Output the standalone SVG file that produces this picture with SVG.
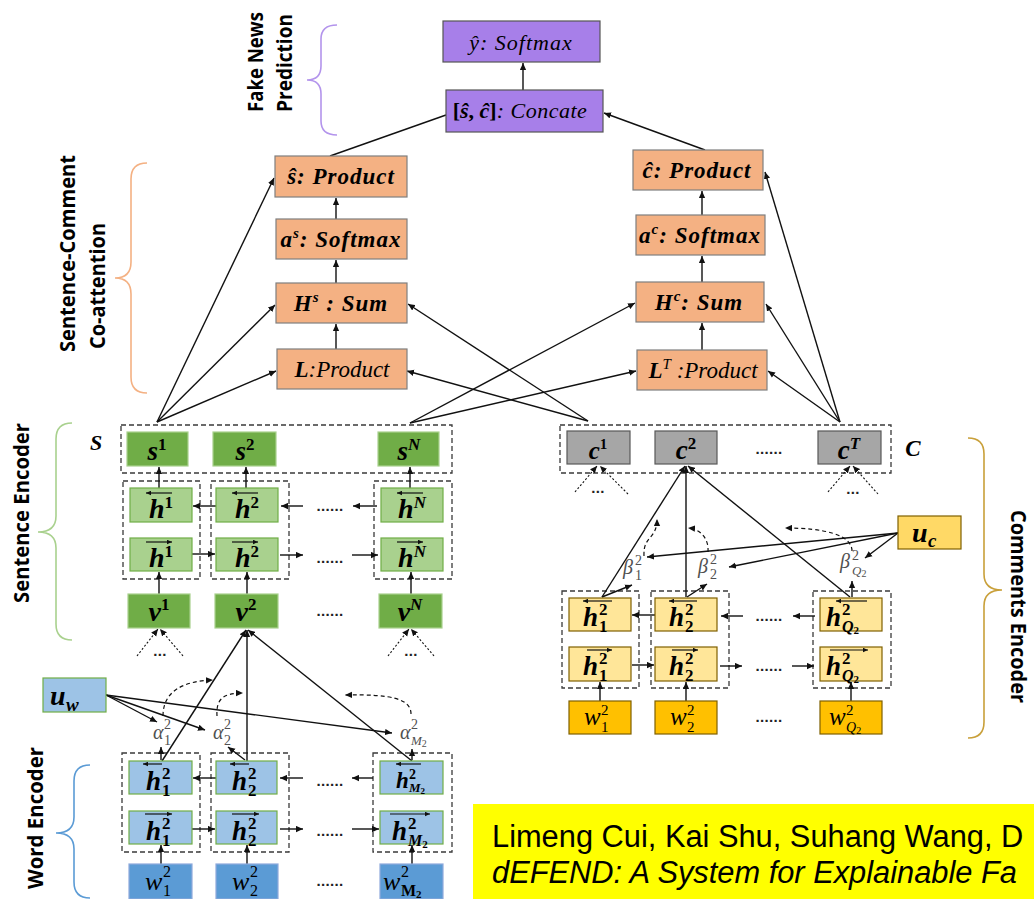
<svg xmlns="http://www.w3.org/2000/svg" width="1034" height="899" viewBox="0 0 1034 899">
<defs>
<style>
.ln{fill:none;stroke:#111;stroke-width:1.4}
.ar{marker-end:url(#ah)}
.dt{stroke-dasharray:2 2;stroke-width:1.1}
.ds{stroke-dasharray:4 3;stroke-width:1.2}
.ctr{fill:none;stroke:#3a3a3a;stroke-width:1.3;stroke-dasharray:5 3}
.vec{fill:none;stroke:#111;stroke-width:1.2;marker-end:url(#av)}
.pu{fill:#a77fe9;stroke:#555;stroke-width:1.2}
.og{fill:#f4b183;stroke:#7f7f7f;stroke-width:1.2}
.dg{fill:#70ad47;stroke:#a9d18e;stroke-width:1.2}
.lg{fill:#a9d18e;stroke:#70ad47;stroke-width:1.2}
.gy{fill:#a6a6a6;stroke:#595959;stroke-width:1.2}
.ly{fill:#ffe699;stroke:#7f6000;stroke-width:1.2}
.uy{fill:#ffd966;stroke:#7f6000;stroke-width:1.2}
.dy{fill:#ffc000;stroke:#7f6000;stroke-width:1.2}
.lb{fill:#9dc3e6;stroke:#70ad47;stroke-width:1.2}
.db{fill:#5b9bd5;stroke:#8faadc;stroke-width:1.2}
.t{font-family:'Liberation Serif','DejaVu Serif',serif;fill:#000}
.bi{font-weight:bold;font-style:italic}
.it{font-style:italic}
.up{font-style:normal}
.g{fill:#505050}
.sec{font-family:'Open Sans','DejaVu Sans',sans-serif;font-weight:700;font-size:21px;fill:#000}
.dots{font-family:'Liberation Sans',sans-serif;font-size:15px;font-weight:bold;fill:#222;letter-spacing:0.3px}
.br{fill:none;stroke-width:1.6}
.cit{font-family:'Liberation Sans',Arial,sans-serif;font-size:30.8px;fill:#000}
</style>
<marker id="ah" viewBox="0 0 10 10" refX="10" refY="5" markerWidth="7" markerHeight="7" markerUnits="userSpaceOnUse" orient="auto"><path d="M0,0.5 L10,5 L0,9.5 z" fill="#111"/></marker>
<marker id="av" viewBox="0 0 10 10" refX="10" refY="5" markerWidth="5" markerHeight="5" markerUnits="userSpaceOnUse" orient="auto"><path d="M0,0.5 L10,5 L0,9.5 z" fill="#111"/></marker>
</defs>
<rect x="0" y="0" width="1034" height="899" fill="#fff"/>

<g id="braces">
<path class="br" stroke="#b394ec" d="M337,25 Q321,25 321,39 L321,66 Q321,80 307,80 Q321,80 321,94 L321,121 Q321,135 337,135"/>
<path class="br" stroke="#f4b183" d="M147,163 Q131,163 131,179 L131,262 Q131,278 115,278 Q131,278 131,294 L131,377 Q131,393 147,393"/>
<path class="br" stroke="#a9d18e" d="M72,423 Q56,423 56,439 L56,516 Q56,532 38,532 Q56,532 56,548 L56,624 Q56,640 72,640"/>
<path class="br" stroke="#5b9bd5" d="M90,765 Q74,765 74,781 L74,817 Q74,833 56,833 Q74,833 74,849 L74,882 Q74,898 90,898"/>
<path class="br" stroke="#c9a03a" d="M968,438 Q984,438 984,454 L984,574 Q984,590 1002,590 Q984,590 984,606 L984,722 Q984,738 968,738"/>
</g>

<g id="section-labels">
<text class="sec" font-size="20" transform="translate(263,112) rotate(-90)" textLength="100" lengthAdjust="spacingAndGlyphs">Fake News</text>
<text class="sec" font-size="20" transform="translate(292,112) rotate(-90)" textLength="98" lengthAdjust="spacingAndGlyphs">Prediction</text>
<text class="sec" transform="translate(75,352) rotate(-90)" textLength="197" lengthAdjust="spacingAndGlyphs">Sentence-Comment</text>
<text class="sec" transform="translate(105,349) rotate(-90)" textLength="126" lengthAdjust="spacingAndGlyphs">Co-attention</text>
<text class="sec" transform="translate(29,603) rotate(-90)" textLength="180" lengthAdjust="spacingAndGlyphs">Sentence Encoder</text>
<text class="sec" transform="translate(43,889) rotate(-90)" textLength="142" lengthAdjust="spacingAndGlyphs">Word Encoder</text>
<text class="sec" transform="translate(1011,510) rotate(90)" textLength="193" lengthAdjust="spacingAndGlyphs">Comments Encoder</text>
</g>

<g id="containers">
<rect id="S" class="ctr" x="121" y="425" width="331" height="48"/>
<rect class="ctr" x="123" y="481" width="77" height="98"/>
<rect class="ctr" x="211" y="481" width="78" height="98"/>
<rect class="ctr" x="374" y="481" width="78" height="98"/>
<rect id="C" class="ctr" x="560" y="425" width="331" height="48"/>
<rect class="ctr" x="562" y="591" width="77" height="97"/>
<rect class="ctr" x="651" y="591" width="78" height="97"/>
<rect class="ctr" x="813" y="591" width="78" height="97"/>
<rect class="ctr" x="122" y="753" width="78" height="99"/>
<rect class="ctr" x="211" y="753" width="78" height="99"/>
<rect class="ctr" x="373" y="753" width="79" height="99"/>
<text class="t bi" x="96" y="450" text-anchor="middle" font-size="22">S</text>
<text class="t bi" x="913" y="456" text-anchor="middle" font-size="23">C</text>
</g>

<g id="connectors">
<path class="ln ar" d="M523,90 L523,63"/>
<path class="ln" d="M330,156 L446,115"/>
<path class="ln ar" d="M705,150 L604,113"/>
<path class="ln ar" d="M336,349 L336,324"/>
<path class="ln ar" d="M336,283 L336,260"/>
<path class="ln ar" d="M336,219 L336,198"/>
<path class="ln ar" d="M702,350 L702,323"/>
<path class="ln ar" d="M702,282 L702,256"/>
<path class="ln ar" d="M702,215 L702,191"/>
<path class="ln ar" d="M157,422 L274,178"/>
<path class="ln ar" d="M157,422 L275,305"/>
<path class="ln ar" d="M157,422 L276,371"/>
<path class="ln ar" d="M410,423 L635,303"/>
<path class="ln ar" d="M410,423 L636,371"/>
<path class="ln ar" d="M588,421 L408,304"/>
<path class="ln ar" d="M588,421 L407,371"/>
<path class="ln ar" d="M840,422 L765,172"/>
<path class="ln ar" d="M840,422 L766,304"/>
<path class="ln ar" d="M840,422 L768,371"/>
<path class="ln ar" d="M159,594 L159,572"/>
<path class="ln ar" d="M247,594 L247,572"/>
<path class="ln ar" d="M411,594 L411,572"/>
<path class="ln ar" d="M159,488 L159,467"/>
<path class="ln ar" d="M246,488 L246,467"/>
<path class="ln ar" d="M410,488 L410,467"/>
<path class="ln ar" d="M192,554 L215,554"/>
<path class="ln ar" d="M280,555 L303,555"/>
<path class="ln ar" d="M352,555 L378,555"/>
<path class="ln ar" d="M216,506 L193,506"/>
<path class="ln ar" d="M303,506 L281,506"/>
<path class="ln ar" d="M377,506 L353,506"/>
<path class="ln dt ar" d="M137,656 L158,629"/>
<path class="ln dt ar" d="M183,656 L160,629"/>
<path class="ln dt ar" d="M388,656 L409,629"/>
<path class="ln dt ar" d="M434,656 L411,629"/>
<path class="ln ar" d="M162,761 L246,630"/>
<path class="ln ar" d="M247,761 L247,630"/>
<path class="ln ar" d="M412,761 L248,630"/>
<path class="ln ar" d="M106,695 L157,722"/>
<path class="ln ar" d="M106,695 L205,730"/>
<path class="ln ar" d="M106,695 L392,733"/>
<path class="ln ar" d="M161,760 L161,747"/>
<path class="ln ar" d="M245,760 L228,747"/>
<path class="ln ar" d="M412,760 L412,749"/>
<path class="ln ds ar" d="M163,716 C163,690 185,681 213,680"/>
<path class="ln ds ar" d="M217,716 C216,700 222,693 243,693"/>
<path class="ln ds ar" d="M411,714 C411,699 392,694 345,695"/>
<path class="ln ar" d="M161,864 L161,845"/>
<path class="ln ar" d="M247,864 L247,845"/>
<path class="ln ar" d="M412,864 L412,845"/>
<path class="ln ar" d="M192,829 L215,829"/>
<path class="ln ar" d="M280,829 L303,829"/>
<path class="ln ar" d="M352,829 L379,829"/>
<path class="ln ar" d="M216,778 L193,778"/>
<path class="ln ar" d="M303,778 L280,778"/>
<path class="ln ar" d="M373,778 L352,778"/>
<path class="ln dt ar" d="M575,492 L597,466"/>
<path class="ln dt ar" d="M628,494 L600,466"/>
<path class="ln dt ar" d="M828,492 L850,466"/>
<path class="ln dt ar" d="M878,494 L853,466"/>
<path class="ln ar" d="M602,597 L685,466"/>
<path class="ln ar" d="M686,597 L686,466"/>
<path class="ln ar" d="M850,597 L688,466"/>
<path class="ln ar" d="M602,597 L632,585"/>
<path class="ln ar" d="M687,597 L707,584"/>
<path class="ln ar" d="M852,597 L852,581"/>
<path class="ln ar" d="M898,533 L647,557"/>
<path class="ln ar" d="M898,533 L729,567"/>
<path class="ln ar" d="M898,533 L865,558"/>
<path class="ln ds ar" d="M644,556 C643,535 657,540 657,519"/>
<path class="ln ds ar" d="M708,552 C709,538 700,529 688,528"/>
<path class="ln ds ar" d="M852,551 C852,535 825,528 785,528"/>
<path class="ln ar" d="M600,701 L600,682"/>
<path class="ln ar" d="M686,701 L686,682"/>
<path class="ln ar" d="M851,701 L851,682"/>
<path class="ln ar" d="M632,665 L654,665"/>
<path class="ln ar" d="M720,666 L742,666"/>
<path class="ln ar" d="M792,666 L814,666"/>
<path class="ln ar" d="M655,615 L632,615"/>
<path class="ln ar" d="M743,616 L721,616"/>
<path class="ln ar" d="M815,616 L793,616"/>
</g>

<g id="dots">
<text class="dots" x="330" y="511" text-anchor="middle">......</text>
<text class="dots" x="330" y="563" text-anchor="middle">......</text>
<text class="dots" x="330" y="616" text-anchor="middle">......</text>
<text class="dots" x="160" y="656" text-anchor="middle">...</text>
<text class="dots" x="411" y="656" text-anchor="middle">...</text>
<text class="dots" x="330" y="786" text-anchor="middle">......</text>
<text class="dots" x="330" y="836" text-anchor="middle">......</text>
<text class="dots" x="330" y="886" text-anchor="middle">......</text>
<text class="dots" x="769" y="454" text-anchor="middle">......</text>
<text class="dots" x="598" y="493" text-anchor="middle">...</text>
<text class="dots" x="853" y="494" text-anchor="middle">...</text>
<text class="dots" x="769" y="621" text-anchor="middle">......</text>
<text class="dots" x="769" y="671" text-anchor="middle">......</text>
<text class="dots" x="769" y="722" text-anchor="middle">......</text>
</g>

<g id="n-yhat"><rect class="pu" x="443" y="21" width="157" height="41"/><text class="t it" x="521" y="50" text-anchor="middle" font-size="22" letter-spacing="1">ŷ: Softmax</text></g>
<g id="n-concate"><rect class="pu" x="446" y="90" width="157" height="42"/><text class="t" x="520" y="118" text-anchor="middle" font-size="22"><tspan font-weight="bold">[</tspan><tspan class="bi">ŝ</tspan><tspan font-weight="bold">, </tspan><tspan class="bi">ĉ</tspan><tspan font-weight="bold">]</tspan><tspan class="it" letter-spacing="0.5">: Concate</tspan></text></g>

<g id="n-shat"><rect class="og" x="275" y="156" width="132" height="41"/><text class="t bi" x="341" y="184" text-anchor="middle" font-size="23" letter-spacing="1">ŝ: Product</text></g>
<g id="n-as"><rect class="og" x="276" y="219" width="131" height="40"/><text class="t bi" x="341" y="247" text-anchor="middle" font-size="23" letter-spacing="1">a<tspan font-size="15" dy="-9">s</tspan><tspan dy="9">: Softmax</tspan></text></g>
<g id="n-Hs"><rect class="og" x="276" y="283" width="131" height="40"/><text class="t bi" x="341" y="311" text-anchor="middle" font-size="23" letter-spacing="1">H<tspan font-size="15" dy="-9">s</tspan><tspan dy="9"> : Sum</tspan></text></g>
<g id="n-L"><rect class="og" x="277" y="349" width="130" height="40"/><text class="t it" x="342" y="377" text-anchor="middle" font-size="23"><tspan font-weight="bold">L</tspan>:Product</text></g>
<g id="n-chat"><rect class="og" x="633" y="150" width="130" height="40"/><text class="t bi" x="697" y="178" text-anchor="middle" font-size="23" letter-spacing="1">ĉ: Product</text></g>
<g id="n-ac"><rect class="og" x="636" y="215" width="129" height="40"/><text class="t bi" x="700" y="243" text-anchor="middle" font-size="23" letter-spacing="1">a<tspan font-size="15" dy="-9">c</tspan><tspan dy="9">: Softmax</tspan></text></g>
<g id="n-Hc"><rect class="og" x="636" y="282" width="128" height="40"/><text class="t bi" x="699" y="310" text-anchor="middle" font-size="23" letter-spacing="1">H<tspan font-size="15" dy="-9">c</tspan><tspan dy="9">: Sum</tspan></text></g>
<g id="n-LT"><rect class="og" x="637" y="350" width="130" height="40"/><text class="t it" x="703" y="378" text-anchor="middle" font-size="23"><tspan font-weight="bold">L</tspan><tspan font-size="15" dy="-9">T</tspan><tspan dy="9"> :Product</tspan></text></g>

<g id="n-s1"><rect class="dg" x="127" y="432" width="61" height="34"/><text class="t bi" x="157" y="460" text-anchor="middle" font-size="27">s<tspan class="up" font-size="17" dy="-10">1</tspan></text></g>
<g id="n-s2"><rect class="dg" x="213" y="432" width="63" height="34"/><text class="t bi" x="245" y="460" text-anchor="middle" font-size="27">s<tspan class="up" font-size="17" dy="-10">2</tspan></text></g>
<g id="n-sN"><rect class="dg" x="378" y="432" width="61" height="34"/><text class="t bi" x="409" y="460" text-anchor="middle" font-size="27">s<tspan font-size="17" dy="-10">N</tspan></text></g>
<g id="n-hb1"><rect class="lg" x="130" y="488" width="62" height="34"/><path class="vec" d="M172,493 L146,493"/><text class="t bi" x="161" y="518" text-anchor="middle" font-size="28">h<tspan class="up" font-size="17" dy="-10">1</tspan></text></g>
<g id="n-hb2"><rect class="lg" x="216" y="488" width="62" height="34"/><path class="vec" d="M258,493 L232,493"/><text class="t bi" x="247" y="518" text-anchor="middle" font-size="28">h<tspan class="up" font-size="17" dy="-10">2</tspan></text></g>
<g id="n-hbN"><rect class="lg" x="381" y="488" width="62" height="34"/><path class="vec" d="M423,493 L397,493"/><text class="t bi" x="412" y="518" text-anchor="middle" font-size="28">h<tspan font-size="17" dy="-10">N</tspan></text></g>
<g id="n-hf1"><rect class="lg" x="130" y="538" width="62" height="33"/><path class="vec" d="M146,542 L172,542"/><text class="t bi" x="161" y="567" text-anchor="middle" font-size="28">h<tspan class="up" font-size="17" dy="-10">1</tspan></text></g>
<g id="n-hf2"><rect class="lg" x="216" y="538" width="62" height="33"/><path class="vec" d="M232,542 L258,542"/><text class="t bi" x="247" y="567" text-anchor="middle" font-size="28">h<tspan class="up" font-size="17" dy="-10">2</tspan></text></g>
<g id="n-hfN"><rect class="lg" x="381" y="538" width="62" height="33"/><path class="vec" d="M397,542 L423,542"/><text class="t bi" x="412" y="567" text-anchor="middle" font-size="28">h<tspan font-size="17" dy="-10">N</tspan></text></g>
<g id="n-v1"><rect class="dg" x="128" y="594" width="62" height="34"/><text class="t bi" x="159" y="621" text-anchor="middle" font-size="28">v<tspan class="up" font-size="17" dy="-11">1</tspan></text></g>
<g id="n-v2"><rect class="dg" x="215" y="594" width="63" height="34"/><text class="t bi" x="246" y="621" text-anchor="middle" font-size="28">v<tspan class="up" font-size="17" dy="-11">2</tspan></text></g>
<g id="n-vN"><rect class="dg" x="379" y="594" width="63" height="34"/><text class="t bi" x="410" y="621" text-anchor="middle" font-size="28">v<tspan font-size="17" dy="-11">N</tspan></text></g>

<g id="n-uw"><rect class="lb" x="43" y="678" width="63" height="34"/><text class="t bi" font-size="28"><tspan x="50" y="705">u</tspan><tspan font-size="19" x="66" y="711">w</tspan></text></g>
<g id="n-alpha1"><text class="t it g" font-size="20"><tspan x="153" y="739">α</tspan><tspan class="up" font-size="14" x="164" y="729">2</tspan><tspan class="up" font-size="14" x="164" y="745">1</tspan></text></g>
<g id="n-alpha2"><text class="t it g" font-size="20"><tspan x="213" y="739">α</tspan><tspan class="up" font-size="14" x="224" y="729">2</tspan><tspan class="up" font-size="14" x="224" y="745">2</tspan></text></g>
<g id="n-alphaM"><text class="t it g" font-size="20"><tspan x="400" y="739">α</tspan><tspan class="up" font-size="14" x="411" y="729">2</tspan><tspan font-size="13" x="411" y="745">M</tspan><tspan class="up" font-size="10" dy="2">2</tspan></text></g>
<g id="n-whb1"><rect class="lb" x="129" y="761" width="63" height="33"/><path class="vec" d="M162,764 L143,764"/><text class="t bi" font-size="27"><tspan x="146" y="790">h</tspan><tspan class="up" font-size="17" x="162" y="779">2</tspan><tspan class="up" font-size="17" x="162" y="796">1</tspan></text></g>
<g id="n-whb2"><rect class="lb" x="216" y="761" width="61" height="33"/><path class="vec" d="M249,764 L230,764"/><text class="t bi" font-size="27"><tspan x="232" y="790">h</tspan><tspan class="up" font-size="17" x="248" y="779">2</tspan><tspan class="up" font-size="17" x="248" y="796">2</tspan></text></g>
<g id="n-whbM"><rect class="lb" x="380" y="761" width="63" height="33"/><path class="vec" d="M421,764 L396,764"/><text class="t bi" font-size="23"><tspan x="396" y="788">h</tspan><tspan class="up" font-size="14" x="409" y="779">2</tspan><tspan font-size="13" x="409" y="792">M</tspan><tspan class="up" font-size="9" dy="2">2</tspan></text></g>
<g id="n-whf1"><rect class="lb" x="129" y="811" width="63" height="33"/><path class="vec" d="M145,814 L172,814"/><text class="t bi" font-size="27"><tspan x="146" y="840">h</tspan><tspan class="up" font-size="17" x="162" y="829">2</tspan><tspan class="up" font-size="17" x="162" y="846">1</tspan></text></g>
<g id="n-whf2"><rect class="lb" x="216" y="811" width="61" height="33"/><path class="vec" d="M232,814 L259,814"/><text class="t bi" font-size="27"><tspan x="232" y="840">h</tspan><tspan class="up" font-size="17" x="248" y="829">2</tspan><tspan class="up" font-size="17" x="248" y="846">2</tspan></text></g>
<g id="n-whfM"><rect class="lb" x="380" y="811" width="63" height="33"/><path class="vec" d="M390,814 L430,814"/><text class="t bi" font-size="27"><tspan x="392" y="840">h</tspan><tspan class="up" font-size="17" x="408" y="829">2</tspan><tspan font-size="16" x="408" y="846">M</tspan><tspan class="up" font-size="11" dy="2">2</tspan></text></g>
<g id="n-ww1"><rect class="db" x="129" y="864" width="63" height="35"/><text class="t it" font-size="26"><tspan x="145" y="890">w</tspan><tspan class="up" font-size="16" x="163" y="877">2</tspan><tspan class="up" font-size="16" x="163" y="896">1</tspan></text></g>
<g id="n-ww2"><rect class="db" x="216" y="864" width="62" height="35"/><text class="t it" font-size="26"><tspan x="232" y="890">w</tspan><tspan class="up" font-size="16" x="250" y="877">2</tspan><tspan class="up" font-size="16" x="250" y="896">2</tspan></text></g>
<g id="n-wwM"><rect class="db" x="380" y="864" width="63" height="35"/><text class="t it" font-size="26"><tspan x="383" y="890">w</tspan><tspan class="up" font-size="16" x="401" y="877">2</tspan><tspan class="up" font-size="16" font-weight="bold" x="401" y="896">M</tspan><tspan class="up" font-size="11" font-weight="bold" dy="2">2</tspan></text></g>

<g id="n-c1"><rect class="gy" x="567" y="431" width="63" height="33"/><text class="t bi" x="598" y="459" text-anchor="middle" font-size="25">c<tspan class="up" font-size="15" dy="-10">1</tspan></text></g>
<g id="n-c2"><rect class="gy" x="655" y="431" width="62" height="33"/><text class="t bi" x="686" y="459" text-anchor="middle" font-size="27">c<tspan class="up" font-size="17" dy="-10">2</tspan></text></g>
<g id="n-cT"><rect class="gy" x="818" y="431" width="63" height="33"/><text class="t bi" x="849" y="459" text-anchor="middle" font-size="27">c<tspan font-size="17" dy="-10">T</tspan></text></g>
<g id="n-uc"><rect class="uy" x="898" y="516" width="63" height="33"/><text class="t bi" font-size="28"><tspan x="912" y="542">u</tspan><tspan font-size="19" x="928" y="547">c</tspan></text></g>
<g id="n-beta1"><text class="t it g" font-size="20"><tspan x="623" y="574">β</tspan><tspan class="up" font-size="14" x="635" y="565">2</tspan><tspan class="up" font-size="14" x="635" y="580">1</tspan></text></g>
<g id="n-beta2"><text class="t it g" font-size="20"><tspan x="698" y="573">β</tspan><tspan class="up" font-size="14" x="710" y="564">2</tspan><tspan class="up" font-size="14" x="710" y="579">2</tspan></text></g>
<g id="n-betaQ"><text class="t it g" font-size="20"><tspan x="840" y="568">β</tspan><tspan class="up" font-size="14" x="852" y="560">2</tspan><tspan font-size="13" x="852" y="575">Q</tspan><tspan class="up" font-size="10" dy="2">2</tspan></text></g>
<g id="n-chb1"><rect class="ly" x="569" y="598" width="62" height="33"/><path class="vec" d="M612,601 L583,601"/><text class="t bi" font-size="27"><tspan x="583" y="626">h</tspan><tspan class="up" font-size="17" x="599" y="615">2</tspan><tspan class="up" font-size="17" x="599" y="632">1</tspan></text></g>
<g id="n-chb2"><rect class="ly" x="655" y="598" width="62" height="33"/><path class="vec" d="M697,601 L669,601"/><text class="t bi" font-size="27"><tspan x="669" y="626">h</tspan><tspan class="up" font-size="17" x="685" y="615">2</tspan><tspan class="up" font-size="17" x="685" y="632">2</tspan></text></g>
<g id="n-chbQ"><rect class="ly" x="820" y="598" width="62" height="33"/><path class="vec" d="M867,601 L836,601"/><text class="t bi" font-size="27"><tspan x="826" y="626">h</tspan><tspan class="up" font-size="17" x="842" y="615">2</tspan><tspan font-size="16" x="842" y="632">Q</tspan><tspan class="up" font-size="11" dy="2">2</tspan></text></g>
<g id="n-chf1"><rect class="ly" x="569" y="647" width="62" height="34"/><path class="vec" d="M587,650 L612,650"/><text class="t bi" font-size="27"><tspan x="583" y="675">h</tspan><tspan class="up" font-size="17" x="599" y="664">2</tspan><tspan class="up" font-size="17" x="599" y="681">1</tspan></text></g>
<g id="n-chf2"><rect class="ly" x="655" y="647" width="62" height="34"/><path class="vec" d="M672,650 L698,650"/><text class="t bi" font-size="27"><tspan x="669" y="675">h</tspan><tspan class="up" font-size="17" x="685" y="664">2</tspan><tspan class="up" font-size="17" x="685" y="681">2</tspan></text></g>
<g id="n-chfQ"><rect class="ly" x="820" y="647" width="62" height="34"/><path class="vec" d="M830,650 L868,650"/><text class="t bi" font-size="27"><tspan x="826" y="675">h</tspan><tspan class="up" font-size="17" x="842" y="664">2</tspan><tspan font-size="16" x="842" y="681">Q</tspan><tspan class="up" font-size="11" dy="2">2</tspan></text></g>
<g id="n-cw1"><rect class="dy" x="569" y="701" width="62" height="33"/><text class="t it" font-size="25"><tspan x="584" y="725">w</tspan><tspan class="up" font-size="15" x="601" y="715">2</tspan><tspan class="up" font-size="15" x="601" y="732">1</tspan></text></g>
<g id="n-cw2"><rect class="dy" x="655" y="701" width="62" height="33"/><text class="t it" font-size="25"><tspan x="670" y="725">w</tspan><tspan class="up" font-size="15" x="687" y="715">2</tspan><tspan class="up" font-size="15" x="687" y="732">2</tspan></text></g>
<g id="n-cwQ"><rect class="dy" x="820" y="701" width="62" height="33"/><text class="t it" font-size="25"><tspan x="829" y="725">w</tspan><tspan class="up" font-size="15" x="846" y="715">2</tspan><tspan font-size="14" x="846" y="732">Q</tspan><tspan class="up" font-size="10" dy="2">2</tspan></text></g>

<g id="citation">
<rect x="473" y="804" width="561" height="95" fill="#ffff00"/>
<text class="cit" x="492" y="847">Limeng Cui, Kai Shu, Suhang Wang, D</text>
<text class="cit" x="492" y="883" font-style="italic">dEFEND: A System for Explainable Fa</text>
</g>
</svg>
